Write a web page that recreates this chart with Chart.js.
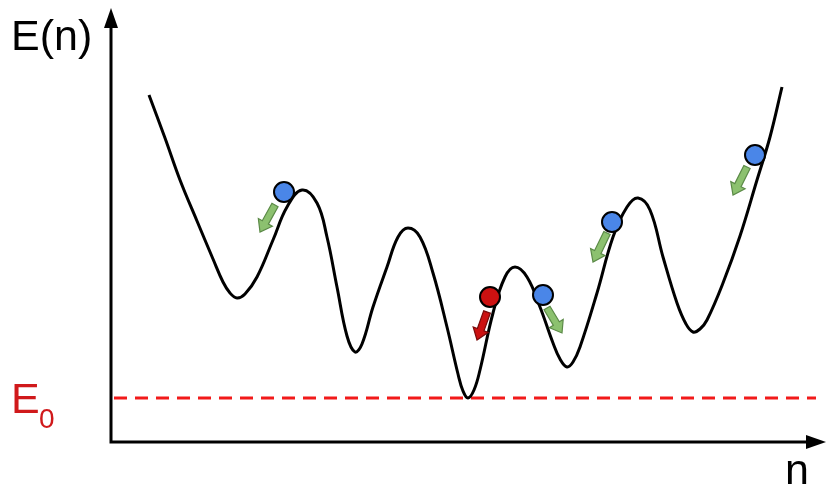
<!DOCTYPE html>
<html>
<head>
<meta charset="utf-8">
<script src="https://cdn.jsdelivr.net/npm/chart.js@4"></script>
<style>
  html, body { margin: 0; padding: 0; background: #fff; }
  #wrap { width: 827px; height: 486px; }
</style>
</head>
<body>
<div id="wrap"><canvas id="chart" width="827" height="486"></canvas></div>
<script>
// energy landscape (n across, E up)
const curveN = [149, 165, 180, 197, 213, 223, 230, 237, 245, 257, 273, 287, 302, 317, 327, 337, 347, 355, 362,
  373, 387, 398, 408, 420, 433, 447, 458, 463, 468, 474, 480, 493, 505, 515, 527, 540, 553, 560, 567, 573,
  580, 597, 613, 627, 638, 650, 663, 677, 686, 693, 700, 707, 723, 740, 757, 770, 782];
const curveE = [391, 348, 306, 265, 227, 204, 193, 188, 192, 209, 246, 279, 296, 283, 249, 199, 150, 134, 142,
  179, 219, 249, 258, 249, 213, 159, 112, 95, 88, 96, 116, 173, 209, 219, 209, 179, 143, 127, 119, 124,
  139, 193, 249, 279, 288, 276, 229, 183, 162, 154, 157, 166, 203, 250, 306, 349, 399];

const blueN = [284, 543, 612, 755];
const blueE = [294, 191, 264, 331];
const redN = [490];
const redE = [189];

// where each ball's push arrow starts and ends
const arrowFromN = [275, 547, 607, 747, 487];
const arrowFromE = [281, 178, 253, 319, 174];
const arrowToN = [260, 562, 593, 733, 477];
const arrowToE = [254, 153, 224, 291, 146];
const arrowKind = ['g', 'g', 'g', 'g', 'r'];

const groundE = 88; // E0 level
const axisN = 111;
const axisE = 44;

const toPts = (xs, ys) => xs.map((x, i) => ({ x: x, y: ys[i] }));

function drawArrow(ctx, x1, y1, x2, y2, fill, stroke) {
  const ang = Math.atan2(y2 - y1, x2 - x1);
  const len = Math.hypot(x2 - x1, y2 - y1);
  const shaft = 3.5, head = 8, headLen = 11;
  ctx.save();
  ctx.translate(x1, y1);
  ctx.rotate(ang);
  ctx.beginPath();
  ctx.moveTo(0, -shaft);
  ctx.lineTo(len - headLen, -shaft);
  ctx.lineTo(len - headLen, -head);
  ctx.lineTo(len, 0);
  ctx.lineTo(len - headLen, head);
  ctx.lineTo(len - headLen, shaft);
  ctx.lineTo(0, shaft);
  ctx.closePath();
  ctx.fillStyle = fill;
  ctx.fill();
  ctx.lineWidth = 1.2;
  ctx.strokeStyle = stroke;
  ctx.stroke();
  ctx.restore();
}

const decor = {
  id: 'decor',
  beforeDatasetsDraw(chart) {
    const { ctx, scales: { x, y } } = chart;
    const ax = x.getPixelForValue(axisN);
    const ay = y.getPixelForValue(axisE);
    const gy = y.getPixelForValue(groundE);
    ctx.save();
    // E0 dashed level
    ctx.strokeStyle = '#f21a1a';
    ctx.lineWidth = 3;
    ctx.setLineDash([13, 8]);
    ctx.beginPath();
    ctx.moveTo(ax + 3, gy);
    ctx.lineTo(x.getPixelForValue(816), gy);
    ctx.stroke();
    ctx.setLineDash([]);
    // axes
    ctx.strokeStyle = '#000';
    ctx.fillStyle = '#000';
    ctx.lineWidth = 3;
    ctx.beginPath();
    ctx.moveTo(ax, ay + 1.5);
    ctx.lineTo(ax, y.getPixelForValue(462));
    ctx.moveTo(ax - 1.5, ay);
    ctx.lineTo(x.getPixelForValue(808), ay);
    ctx.stroke();
    const topY = y.getPixelForValue(478);
    ctx.beginPath();
    ctx.moveTo(ax, topY);
    ctx.lineTo(ax - 7, topY + 20);
    ctx.lineTo(ax + 7, topY + 20);
    ctx.closePath();
    ctx.fill();
    const rightX = x.getPixelForValue(826);
    ctx.beginPath();
    ctx.moveTo(rightX, ay);
    ctx.lineTo(rightX - 20, ay - 7);
    ctx.lineTo(rightX - 20, ay + 7);
    ctx.closePath();
    ctx.fill();
    // labels
    ctx.font = '43px "Liberation Sans", Arial, sans-serif';
    ctx.textBaseline = 'alphabetic';
    ctx.fillText('E(n)', 11, 50);
    ctx.fillText('n', 785, 484);
    ctx.fillStyle = '#d0191b';
    ctx.fillText('E', 11, 413);
    ctx.font = '28px "Liberation Sans", Arial, sans-serif';
    ctx.fillText('0', 39, 428);
    ctx.restore();
  },
  afterDatasetsDraw(chart) {
    const { ctx, scales: { x, y } } = chart;
    arrowKind.forEach((k, i) => {
      drawArrow(ctx,
        x.getPixelForValue(arrowFromN[i]), y.getPixelForValue(arrowFromE[i]),
        x.getPixelForValue(arrowToN[i]), y.getPixelForValue(arrowToE[i]),
        k === 'g' ? '#8cc16f' : '#cc1111',
        k === 'g' ? '#5b8a47' : '#7a0a0a');
    });
  }
};

new Chart(document.getElementById('chart'), {
  type: 'line',
  data: {
    datasets: [
      {
        label: 'E(n)',
        data: toPts(curveN, curveE),
        borderColor: '#000',
        borderWidth: 3,
        pointRadius: 0,
        tension: 0.4,
        order: 3
      },
      {
        label: 'blue',
        type: 'scatter',
        data: toPts(blueN, blueE),
        backgroundColor: '#4a86e8',
        borderColor: '#000',
        borderWidth: 2,
        pointRadius: 10,
        order: 1
      },
      {
        label: 'red',
        type: 'scatter',
        data: toPts(redN, redE),
        backgroundColor: '#cc1111',
        borderColor: '#000',
        borderWidth: 2,
        pointRadius: 10,
        order: 1
      }
    ]
  },
  options: {
    responsive: false,
    animation: false,
    layout: { padding: 0, autoPadding: false },
    plugins: { legend: { display: false }, tooltip: { enabled: false } },
    scales: {
      x: { type: 'linear', min: 0, max: 827, display: false },
      y: { type: 'linear', min: 0, max: 486, display: false }
    }
  },
  plugins: [decor]
});
</script>
</body>
</html>
